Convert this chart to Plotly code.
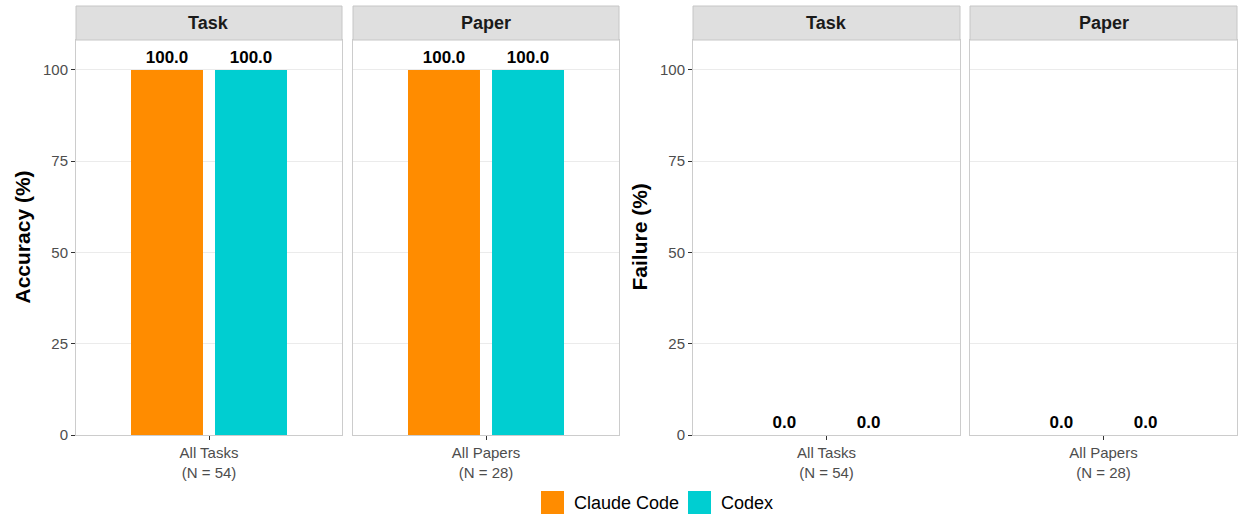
import plotly.graph_objects as go

# ---- data ----
facets = ["Task", "Paper"]
x_labels = ["All Tasks<br>(N = 54)", "All Papers<br>(N = 28)"]
metrics = ["Accuracy (%)", "Failure (%)"]
series = ["Claude Code", "Codex"]
claude_accuracy = [100.0, 100.0]
codex_accuracy = [100.0, 100.0]
claude_failure = [0.0, 0.0]
codex_failure = [0.0, 0.0]

colors = {"Claude Code": "#FF8C00", "Codex": "#00CED1"}
values = {
    "Accuracy (%)": {"Claude Code": claude_accuracy, "Codex": codex_accuracy},
    "Failure (%)": {"Claude Code": claude_failure, "Codex": codex_failure},
}

W, H = 1238, 514
FONT = "Liberation Sans, Arial, Helvetica, sans-serif"

# panel pixel extents
panels_px = [(76, 342), (353, 619), (693, 960), (970, 1237)]
plot_top, plot_bot = 40, 435
strip_top = 6
ydom = [1 - plot_bot / H, 1 - plot_top / H]
strip_dom = [1 - plot_top / H, 1 - strip_top / H]

fig = go.Figure()
layout = dict(
    width=W, height=H, autosize=False,
    margin=dict(l=0, r=0, t=0, b=0, pad=0),
    paper_bgcolor="white", plot_bgcolor="white",
    barmode="group", bargap=0.242, bargroupgap=0.143,
    showlegend=False,
    font=dict(family=FONT),
)
shapes = []
annotations = []

idx = 0
for mi, metric in enumerate(metrics):
    for fi, facet in enumerate(facets):
        idx += 1
        xa = "x" if idx == 1 else f"x{idx}"
        ya = "y" if idx == 1 else f"y{idx}"
        x0, x1 = panels_px[idx - 1]
        xdom = [x0 / W, x1 / W]
        for s in series:
            v = values[metric][s][fi]
            fig.add_trace(go.Bar(
                x=[x_labels[fi]], y=[v], name=s,
                marker=dict(color=colors[s], line=dict(width=0)),
                text=[f"{v:.1f}"], textposition="outside",
                textangle=0, constraintext="none", cliponaxis=False,
                textfont=dict(family=FONT, size=17, color="black", weight="bold"),
                xaxis=xa, yaxis=ya, offsetgroup=s, showlegend=False,
                hoverinfo="skip",
            ))
        layout["xaxis" if idx == 1 else f"xaxis{idx}"] = dict(
            domain=xdom, anchor=ya, type="category", range=[-0.6, 0.6],
            automargin=False,
            showgrid=False, zeroline=False,
            showline=True, mirror=True, linecolor="#CCCCCC", linewidth=1,
            ticks="outside", ticklen=4, tickcolor="#333333", tickwidth=1,
            tickfont=dict(family=FONT, size=15, color="#4D4D4D"),
        )
        layout["yaxis" if idx == 1 else f"yaxis{idx}"] = dict(
            domain=ydom, anchor=xa, range=[0, 108.2],
            automargin=False,
            tickvals=[0, 25, 50, 75, 100],
            showticklabels=(fi == 0),
            ticks="outside" if fi == 0 else "", ticklen=4, tickcolor="#333333", tickwidth=1,
            tickfont=dict(family=FONT, size=15, color="#4D4D4D"),
            showgrid=True, gridcolor="#EBEBEB", gridwidth=1.2,
            zeroline=False,
            showline=True, mirror=True, linecolor="#CCCCCC", linewidth=1,
        )
        # strip
        shapes.append(dict(type="rect", xref="paper", yref="paper",
                           x0=xdom[0], x1=xdom[1], y0=strip_dom[0], y1=strip_dom[1],
                           fillcolor="#DFDFDF", line=dict(color="#C6C6C6", width=1)))
        annotations.append(dict(text=f"<b>{facet}</b>", xref="paper", yref="paper",
                                x=(xdom[0] + xdom[1]) / 2, y=(strip_dom[0] + strip_dom[1]) / 2,
                                showarrow=False, xanchor="center", yanchor="middle",
                                font=dict(family=FONT, size=18, color="#1A1A1A")))
    # y-axis title
    left_px = panels_px[mi * 2][0]
    annotations.append(dict(text=f"<b>{metric}</b>", xref="paper", yref="paper",
                            x=(left_px - 54) / W, y=(ydom[0] + ydom[1]) / 2,
                            textangle=-90, showarrow=False,
                            xanchor="center", yanchor="middle",
                            font=dict(family=FONT, size=21, color="black")))

# legend (manual keys)
leg_y0, leg_y1 = 1 - 514 / H, 1 - 491 / H
key_x = [541, 688]
for s, kx in zip(series, key_x):
    shapes.append(dict(type="rect", xref="paper", yref="paper",
                       x0=kx / W, x1=(kx + 23) / W, y0=leg_y0, y1=leg_y1,
                       fillcolor=colors[s], line=dict(width=0)))
    annotations.append(dict(text=s, xref="paper", yref="paper",
                            x=(kx + 31) / W, y=(leg_y0 + leg_y1) / 2,
                            showarrow=False, xanchor="left", yanchor="middle",
                            font=dict(family=FONT, size=18, color="black")))

layout["shapes"] = shapes
layout["annotations"] = annotations
fig.update_layout(**layout)
fig.write_html(
    "out.html",
    config={"displayModeBar": False},
    post_script="document.body.style.margin='0';document.body.style.overflow='hidden';",
)
